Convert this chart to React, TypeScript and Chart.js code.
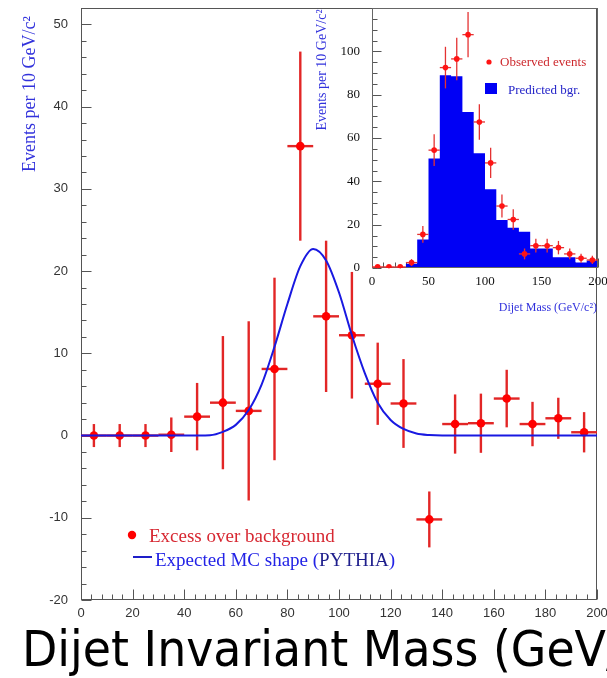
import { useEffect, useRef } from 'react';
import { Chart, registerables } from 'chart.js';

Chart.register(...registerables);

// ---------- main plot data ----------
const binCenters = [5, 15, 25, 35, 45, 55, 65, 75, 85, 95, 105, 115, 125, 135, 145, 155, 165, 175, 185, 195];
const excessEvents = [0, 0, 0, 0.1, 2.3, 4.0, 3.0, 8.1, 35.2, 14.5, 12.2, 6.3, 3.9, -10.2, 1.4, 1.5, 4.5, 1.4, 2.1, 0.4];
const excessErrors = [1.4, 1.4, 1.4, 2.1, 4.1, 8.1, 10.9, 11.1, 11.5, 9.2, 7.7, 5.0, 5.4, 3.4, 3.6, 3.6, 3.5, 2.7, 2.5, 2.45];
const binHalfWidth = 5;

const mcMass = [0, 10, 20, 30, 40, 50, 55, 60, 65, 70, 75, 80, 85, 90, 95, 100, 105, 110, 115, 120, 125, 130, 135, 140, 150, 160, 170, 180, 190, 200];
const mcShape = [0, 0, 0, 0, 0, 0.05, 0.45, 1.3, 3.1, 6.2, 10.8, 16.0, 20.6, 22.7, 21.3, 17.4, 12.2, 7.6, 4.0, 1.9, 0.8, 0.25, 0.06, 0, 0, 0, 0, 0, 0, 0];

const mainXTicks = [0, 20, 40, 60, 80, 100, 120, 140, 160, 180, 200];
const mainYTicks = [-20, -10, 0, 10, 20, 30, 40, 50];

// ---------- inset data ----------
const insetBinEdges = [0, 10, 20, 30, 40, 50, 60, 70, 80, 90, 100, 110, 120, 130, 140, 150, 160, 170, 180, 190, 200];
const predictedBgr = [0, 0, 0, 2, 13.2, 50.5, 89, 88.5, 72, 53, 36.3, 22.1, 18.6, 16.7, 9, 9, 5, 5, 2.5, 3.5];
const observedEvents = [0.5, 0.5, 0.5, 2.5, 15.5, 54.4, 92.5, 96.5, 107.7, 67.4, 48.5, 28.6, 22.4, 6.5, 10.3, 10.3, 9.4, 6.5, 4.5, 3.7];
const observedErrors = [0.7, 0.7, 0.7, 1.6, 3.9, 7.3, 9.6, 9.8, 10.4, 8.2, 7.0, 5.3, 4.7, 2.5, 3.2, 3.2, 3.1, 2.5, 2.1, 1.9];
const insetXTicks = [0, 50, 100, 150, 200];
const insetYTicks = [0, 20, 40, 60, 80, 100];

const SERIF = '"Liberation Serif", "Times New Roman", serif';
const SANS = '"Liberation Sans", Arial, sans-serif';

function line(ctx: CanvasRenderingContext2D, x1: number, y1: number, x2: number, y2: number) {
  ctx.beginPath();
  ctx.moveTo(x1, y1);
  ctx.lineTo(x2, y2);
  ctx.stroke();
}

function drawFrame(chart: any, color: string) {
  const { ctx, chartArea: a } = chart;
  ctx.save();
  ctx.strokeStyle = color;
  ctx.lineWidth = 1;
  const l = Math.round(a.left) + 0.5;
  const t = Math.round(a.top) + 0.5;
  const r = Math.round(a.right) - 0.5;
  const b = Math.round(a.bottom) - 0.5;
  ctx.strokeRect(l, t, r - l, b - t);
  ctx.restore();
}

function drawTicks(chart: any, xMinor: number, xMajor: number, yMinor: number, yMajor: number, majLen: number, minLen: number, color: string) {
  const { ctx, chartArea: a, scales } = chart;
  const x = scales.x;
  const y = scales.y;
  ctx.save();
  ctx.strokeStyle = color;
  ctx.lineWidth = 1;
  const startY = Math.ceil(y.min / yMinor);
  const endY = Math.floor(y.max / yMinor);
  const l = Math.round(a.left) + 0.5;
  for (let k = startY; k <= endY; k++) {
    const v = k * yMinor;
    const py = Math.round(y.getPixelForValue(v)) + 0.5;
    const len = Math.abs(v % yMajor) < 1e-9 ? majLen : minLen;
    line(ctx, l, py, l + len, py);
  }
  const b = Math.round(a.bottom) - 0.5;
  const startX = Math.ceil(x.min / xMinor);
  const endX = Math.floor(x.max / xMinor);
  for (let k = startX; k <= endX; k++) {
    const v = k * xMinor;
    const px = Math.round(x.getPixelForValue(v)) + 0.5;
    const len = Math.abs(v % xMajor) < 1e-9 ? majLen : minLen;
    line(ctx, px, b, px, b - len);
  }
  ctx.restore();
}

function drawErrorBars(chart: any, xs: number[], ys: number[], errs: number[], halfW: number, color: string, width: number) {
  const { ctx, scales } = chart;
  const x = scales.x;
  const y = scales.y;
  ctx.save();
  ctx.strokeStyle = color;
  ctx.lineWidth = width;
  xs.forEach((c, i) => {
    const px = x.getPixelForValue(c);
    const py = y.getPixelForValue(ys[i]);
    line(ctx, px, y.getPixelForValue(ys[i] + errs[i]), px, y.getPixelForValue(ys[i] - errs[i]));
    line(ctx, x.getPixelForValue(c - halfW), py, x.getPixelForValue(c + halfW), py);
  });
  ctx.restore();
}

const mainDecor = {
  id: 'mainDecor',
  beforeDatasetsDraw(chart: any) {
    drawTicks(chart, 4, 20, 2, 10, 10, 5, '#555');
    drawFrame(chart, '#555');
    drawErrorBars(chart, binCenters, excessEvents, excessErrors, binHalfWidth, 'rgb(226,38,38)', 2.4);
  },
  afterDraw(chart: any) {
    const { ctx } = chart;
    ctx.save();
    // y-axis title
    ctx.save();
    ctx.translate(30, 94);
    ctx.rotate(-Math.PI / 2);
    ctx.textAlign = 'center';
    ctx.textBaseline = 'middle';
    ctx.fillStyle = 'rgb(50,50,220)';
    ctx.font = `18px ${SERIF}`;
    ctx.fillText('Events per 10 GeV/c²', 0, 0);
    ctx.restore();

    // legend
    ctx.fillStyle = 'rgb(255,0,0)';
    ctx.beginPath();
    ctx.arc(132, 535, 4.2, 0, Math.PI * 2);
    ctx.fill();
    ctx.font = `19px ${SERIF}`;
    ctx.textAlign = 'left';
    ctx.textBaseline = 'alphabetic';
    ctx.fillStyle = 'rgb(215,40,50)';
    ctx.fillText('Excess over background', 149, 542);

    ctx.strokeStyle = 'rgb(30,30,200)';
    ctx.lineWidth = 2;
    line(ctx, 133, 557, 152, 557);
    ctx.fillStyle = 'rgb(35,35,230)';
    const part1 = 'Expected MC shape (';
    ctx.fillText(part1, 155, 566);
    let xx = 155 + ctx.measureText(part1).width;
    ctx.fillStyle = 'rgb(30,30,140)';
    ctx.fillText('PYTHIA', xx, 566);
    xx += ctx.measureText('PYTHIA').width;
    ctx.fillStyle = 'rgb(35,35,230)';
    ctx.fillText(')', xx, 566);

    // big bottom title
    ctx.save();
    ctx.font = `48px "DejaVu Sans", sans-serif`;
    ctx.fillStyle = '#000';
    const w = ctx.measureText('Dijet Invariant Mass (GeV').width;
    ctx.translate(22, 666);
    ctx.scale(584 / w, 1.05);
    ctx.fillText('Dijet Invariant Mass (GeV/c²)', 0, 0);
    ctx.restore();
    ctx.restore();
  },
};

const insetDecor = {
  id: 'insetDecor',
  beforeDatasetsDraw(chart: any) {
    drawTicks(chart, 10, 50, 5, 20, 9, 5, '#555');
  },
  afterDatasetDraw(chart: any, args: any) {
    if (args.index === 0) {
      drawFrame(chart, '#666');
      const centers = insetBinEdges.slice(0, -1).map((e, i) => (e + insetBinEdges[i + 1]) / 2);
      drawErrorBars(chart, centers, observedEvents, observedErrors, binHalfWidth, 'rgb(228,50,50)', 1.3);
    }
  },
  afterDraw(chart: any) {
    const { ctx } = chart;
    ctx.save();
    // y title
    ctx.save();
    ctx.translate(322, 70);
    ctx.rotate(-Math.PI / 2);
    ctx.textAlign = 'center';
    ctx.textBaseline = 'middle';
    ctx.fillStyle = 'rgb(50,50,220)';
    ctx.font = `14px ${SERIF}`;
    ctx.fillText('Events per 10 GeV/c²', 0, 0);
    ctx.restore();
    // x title
    ctx.textAlign = 'right';
    ctx.textBaseline = 'alphabetic';
    ctx.fillStyle = 'rgb(50,50,220)';
    ctx.font = `12px ${SERIF}`;
    ctx.fillText('Dijet Mass (GeV/c²)', 597, 311);
    // legend
    ctx.fillStyle = 'rgb(255,20,20)';
    ctx.beginPath();
    ctx.arc(489, 62, 2.6, 0, Math.PI * 2);
    ctx.fill();
    ctx.textAlign = 'left';
    ctx.font = `13px ${SERIF}`;
    ctx.fillStyle = 'rgb(205,40,45)';
    ctx.fillText('Observed events', 500, 66);
    ctx.fillStyle = 'rgb(0,0,245)';
    ctx.fillRect(485, 83, 12, 11);
    ctx.fillStyle = 'rgb(35,35,200)';
    ctx.fillText('Predicted bgr.', 508, 94);
    ctx.restore();
  },
};

const zeroHorizPad = (s: any, h: number) => { s.height = h; s.paddingLeft = 0; s.paddingRight = 0; };
const zeroVertPad = (s: any, w: number) => { s.width = w; s.paddingTop = 0; s.paddingBottom = 0; };

export default function App() {
  const mainRef = useRef<HTMLCanvasElement>(null);
  const insetRef = useRef<HTMLCanvasElement>(null);

  useEffect(() => {
    const main = new Chart(mainRef.current as HTMLCanvasElement, {
      type: 'scatter',
      data: {
        datasets: [
          {
            type: 'line',
            data: mcMass.map((m, i) => ({ x: m, y: mcShape[i] })),
            borderColor: 'rgb(25,25,225)',
            borderWidth: 2,
            pointRadius: 0,
            cubicInterpolationMode: 'monotone',
            fill: false,
            order: 0,
          } as any,
          {
            type: 'scatter',
            data: binCenters.map((c, i) => ({ x: c, y: excessEvents[i] })),
            pointRadius: 4.3,
            backgroundColor: 'rgb(255,0,0)',
            borderWidth: 0,
            order: 1,
          } as any,
        ],
      },
      options: {
        animation: false,
        responsive: false,
        events: [],
        layout: { autoPadding: false, padding: { left: 0, right: 10, top: 8, bottom: 0 } },
        plugins: { legend: { display: false }, tooltip: { enabled: false } },
        scales: {
          x: {
            type: 'linear',
            min: 0,
            max: 200,
            afterBuildTicks: (s: any) => { s.ticks = mainXTicks.map((v) => ({ value: v })); },
            afterFit: (s: any) => zeroHorizPad(s, 78),
            grid: { display: false, drawTicks: false },
            border: { display: false },
            ticks: { padding: 6, autoSkip: false, maxRotation: 0, color: '#333', font: { family: SANS, size: 13 } },
          },
          y: {
            type: 'linear',
            min: -20,
            max: 52,
            afterBuildTicks: (s: any) => { s.ticks = mainYTicks.map((v) => ({ value: v })); },
            afterFit: (s: any) => zeroVertPad(s, 81),
            grid: { display: false, drawTicks: false },
            border: { display: false },
            ticks: { padding: 13, color: '#333', font: { family: SANS, size: 13 } },
          },
        },
      } as any,
      plugins: [mainDecor],
    });

    const histPoints = insetBinEdges.map((e, i) => ({ x: e, y: predictedBgr[Math.min(i, predictedBgr.length - 1)] }));
    const inset = new Chart(insetRef.current as HTMLCanvasElement, {
      type: 'scatter',
      data: {
        datasets: [
          {
            type: 'line',
            data: histPoints,
            stepped: 'before',
            borderWidth: 0,
            borderColor: 'rgba(0,0,245,0)',
            backgroundColor: 'rgb(0,0,245)',
            fill: 'origin',
            pointRadius: 0,
            order: 2,
          } as any,
          {
            type: 'scatter',
            data: insetBinEdges.slice(0, -1).map((e, i) => ({ x: e + binHalfWidth, y: observedEvents[i] })),
            pointRadius: 2.8,
            backgroundColor: 'rgb(255,20,20)',
            borderWidth: 0,
            order: 1,
          } as any,
        ],
      },
      options: {
        animation: false,
        responsive: false,
        events: [],
        layout: { autoPadding: false, padding: { left: 312, right: 9, top: 8, bottom: 370 } },
        plugins: { legend: { display: false }, tooltip: { enabled: false }, filler: { propagate: false } },
        scales: {
          x: {
            type: 'linear',
            min: 0,
            max: 200,
            afterBuildTicks: (s: any) => { s.ticks = insetXTicks.map((v) => ({ value: v })); },
            afterFit: (s: any) => zeroHorizPad(s, 40),
            grid: { display: false, drawTicks: false },
            border: { display: false },
            ticks: { padding: 6, autoSkip: false, maxRotation: 0, color: '#111', font: { family: SERIF, size: 13 } },
          },
          y: {
            type: 'linear',
            min: 0,
            max: 120,
            afterBuildTicks: (s: any) => { s.ticks = insetYTicks.map((v) => ({ value: v })); },
            afterFit: (s: any) => zeroVertPad(s, 60),
            grid: { display: false, drawTicks: false },
            border: { display: false },
            ticks: { padding: 12, color: '#111', font: { family: SERIF, size: 13 } },
          },
        },
      } as any,
      plugins: [insetDecor],
    });

    return () => {
      main.destroy();
      inset.destroy();
    };
  }, []);

  return (
    <div style={{ position: 'absolute', left: 0, top: 0, width: 607, height: 678, background: '#fff' }}>
      <canvas ref={mainRef} width={607} height={678} style={{ position: 'absolute', left: 0, top: 0 }} />
      <canvas ref={insetRef} width={607} height={678} style={{ position: 'absolute', left: 0, top: 0 }} />
    </div>
  );
}
